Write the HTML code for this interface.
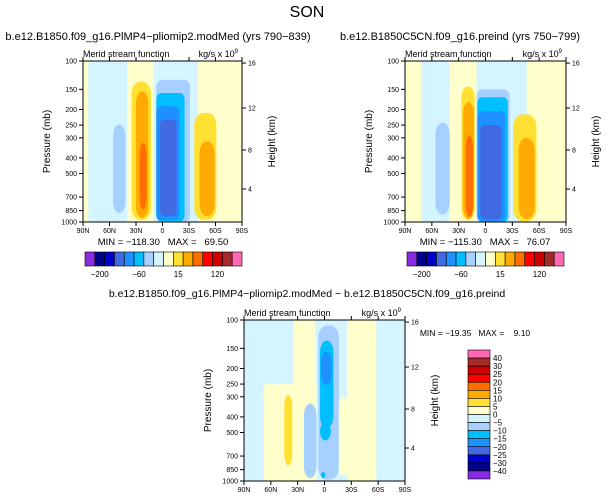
<!DOCTYPE html>
<html><head><meta charset="utf-8">
<style>
body{margin:0;background:#fff;}
svg{display:block;font-family:"Liberation Sans",sans-serif;}
</style></head>
<body>
<svg id="chart" width="615" height="500" viewBox="0 0 615 500">
<text x="307" y="17" font-size="16" text-anchor="middle">SON</text>
</svg>
<script>
// ---- data ----
const latTicks = [90, 60, 30, 0, -30, -60, -90];
const latTickLabels = ["90N","60N","30N","0","30S","60S","90S"];
const presTicks = [100,150,200,250,300,400,500,700,850,1000];
const heightTicks = [16,12,8,4];
const heightTickPres = [103,196,357,624];
const fillColors = {pc:"#d4f4ff", py:"#ffffcc", lb:"#a6d0ff", ds:"#00bfff", db:"#1e90ff", rb:"#4169e1", gd:"#ffe033", or:"#ffaa00", do:"#ff6f00"};
const bar1Colors = ["#8a2be2","#00008b","#0000cd","#4169e1","#1e90ff","#00bfff","#a6d0ff","#d4f4ff","#ffffcc","#ffe033","#ffaa00","#ff6f00","#ff0000","#cd0000","#a52a2a","#ff69b4"];
const bar1Labels = ["-200","-60","15","120"];
const bar1LabelIdx = [1,5,9,13];
const bar3Colors = ["#ff69b4","#a52a2a","#cd0000","#ff0000","#ff6f00","#ffaa00","#ffe033","#ffffcc","#d4f4ff","#a6d0ff","#00bfff","#1e90ff","#4169e1","#0000cd","#00008b","#8a2be2"];
const bar3Labels = ["40","30","25","20","15","10","5","0","\u22125","\u221210","\u221215","\u221220","\u221225","\u221230","\u221240"];
// blobs: [latLeft, latRight, pTop, pBottom, colorKey, roundness]
const panel1Blobs = [
 [90,84,100,1000,"py",0],[84,40,100,1000,"pc",0.3],[40,10,100,1000,"py",0],[10,-42,100,1000,"pc",0],[-40,-72,100,1000,"py",0.3],
 [56,42,248,880,"lb",1],[35,13,134,970,"gd",1],[30,16,154,945,"or",1],[26,18,323,837,"do",1],
 [7,-31,131,1000,"lb",0.6],[7,-25,158,990,"ds",0.5],[7,-19,191,970,"db",0.5],[3,-16,231,920,"rb",0.5],
 [-36,-61,210,970,"gd",1],[-42,-59,315,920,"or",1]];
const panel2Blobs = [
 [90,72,100,1000,"py",0],[72,40,100,1000,"pc",0.3],[40,10,100,1000,"py",0],[10,-48,100,1000,"pc",0],[-46,-76,100,1000,"py",0.3],
 [56,40,242,900,"lb",1],[27,12,144,970,"gd",1],[25,13,180,955,"or",1],[22,14,290,930,"do",1],
 [10,-27,150,1000,"lb",0.6],[9,-25,168,1000,"ds",0.5],[9,-22,205,985,"db",0.5],[6,-18,250,960,"rb",0.5],
 [-31,-57,215,985,"gd",1],[-37,-55,300,960,"or",1]];
const panel3Blobs = [
 [35,10,100,260,"py",0.3],[68,9,250,1000,"py",0.3],[-25,-58,100,1000,"py",0.4],[-15,-26,300,930,"py",1],
 [45,36,292,800,"gd",1],[23,9,330,960,"lb",1],[7,-16,108,980,"lb",1],[5,-10,134,470,"ds",1],[4,-8,158,253,"db",1],
 [5,-7,430,560,"ds",1],[4,-1,880,960,"ds",1]];
// ---- drawing ----
const svg = document.getElementById('chart');
const NS = "http://www.w3.org/2000/svg";
function mk(tag, attrs, parent){const e=document.createElementNS(NS,tag);for(const k in attrs)e.setAttribute(k,attrs[k]);(parent||svg).appendChild(e);return e;}
function txt(x,y,s,size,anchor,parent){const t=mk('text',{x:x,y:y,'font-size':size,'text-anchor':anchor||'start'},parent);t.textContent=s;return t;}

function drawPanel(id, x0, y0, w, h, blobs, bg, name){
  const g = mk('g',{});
  
  
  const xs = lat => x0 + (90-lat)/180*w;
  const ys = p => y0 + Math.log10(p/100)*h;
  const cp = mk('clipPath',{id:'clip'+id},g);
  mk('rect',{x:x0,y:y0,width:w,height:h},cp);
  const bgR = mk('rect',{x:x0,y:y0,width:w,height:h,fill:fillColors[bg]},g);
  
  
  const cg = mk('g',{'clip-path':'url(#clip'+id+')'},g);
  blobs.forEach(b=>{
    const x1=xs(b[0]), x2=xs(b[1]), y1=ys(b[2]), y2=ys(b[3]);
    const rw=Math.min((x2-x1)/2, 9)*b[5], rh=Math.min((y2-y1)/2, 12)*b[5];
    const r = mk('rect',{x:x1,y:y1,width:x2-x1,height:y2-y1,rx:rw,ry:rh,fill:fillColors[b[4]]},cg);
    
    
  });
  mk('rect',{x:x0,y:y0,width:w,height:h,fill:'none',stroke:'#000','stroke-width':1},g);
  latTicks.forEach((l,i)=>{
    const x=xs(l);
    mk('line',{x1:x,y1:y0+h,x2:x,y2:y0+h+4,stroke:'#000'},g);
    mk('line',{x1:x,y1:y0,x2:x,y2:y0-4,stroke:'#000'},g);
    const t=txt(x,y0+h+11,latTickLabels[i],7,'middle',g);
    
    
  });
  presTicks.forEach(p=>{
    const y=ys(p);
    mk('line',{x1:x0,y1:y,x2:x0-4,y2:y,stroke:'#000'},g);
    const t=txt(x0-6,y+2.5,String(p),7,'end',g);
    
    
  });
  heightTicks.forEach((hk,i)=>{
    const y=ys(heightTickPres[i]);
    mk('line',{x1:x0+w,y1:y,x2:x0+w+4,y2:y,stroke:'#000'},g);
    const t=txt(x0+w+6,y+2.5,String(hk),7,'start',g);
    
    
  });
  const yl=txt(0,0,'Pressure (mb)',10,'middle',g);
  yl.setAttribute('transform','translate('+(x0-33)+','+(y0+h/2)+') rotate(-90)');
  
  
  const hl=txt(0,0,'Height (km)',10,'middle',g);
  hl.setAttribute('transform','translate('+(x0+w+33)+','+(y0+h/2)+') rotate(-90)');
  
  
  const st=txt(x0,y0-4,'Merid stream function',9,'start',g);
  
  
  const un=txt(x0+w,y0-4,'kg/s x 10',9,'end',g);
  
  
  const sp=mk('tspan',{'font-size':6,dy:-4},un); sp.textContent='9';
  un.setAttribute('x', x0+w-4);
  return g;
}

function hBar(x0,y0,w,h){
  const g=mk('g',{});
  
  
  const bw=w/bar1Colors.length;
  bar1Colors.forEach((c,i)=>{
    const r=mk('rect',{x:x0+i*bw,y:y0,width:bw,height:h,fill:c,stroke:'#000','stroke-width':0.6},g);
    
    
  });
  bar1Labels.forEach((s,i)=>{
    const t=txt(x0+(bar1LabelIdx[i]+0.5)*bw,y0+h+11,s.replace('-','\u2212'),8,'middle',g);
    
    
  });
}

drawPanel(1,83,61,159,161,panel1Blobs,'py','panel-pliomip2');
drawPanel(2,405,61,161,161,panel2Blobs,'py','panel-preind');
drawPanel(3,244,320,161,161,panel3Blobs,'pc','panel-difference');
hBar(85,252,157,14);
hBar(407,252,157,14);

// vertical colorbar
const vb=mk('g',{});


const vbh=(479-350)/bar3Colors.length;
bar3Colors.forEach((c,i)=>{
  const r=mk('rect',{x:468,y:350+i*vbh,width:22,height:vbh,fill:c,stroke:'#000','stroke-width':0.6},vb);
  
  
});
bar3Labels.forEach((s,i)=>{
  const t=txt(493,350+(i+1)*vbh+3,s,8,'start',vb);
  
  
});

const titles=[
 [158,40,'b.e12.B1850.f09_g16.PlMP4\u2212pliomip2.modMed (yrs 790\u2212839)','panel1-title',11],
 [460,40,'b.e12.B1850C5CN.f09_g16.preind (yrs 750\u2212799)','panel2-title',11],
 [307,297,'b.e12.B1850.f09_g16.PlMP4\u2212pliomip2.modMed \u2212 b.e12.B1850C5CN.f09_g16.preind','panel3-title',10.5],
 [163,245,'MIN = \u2212118.30   MAX =   69.50','panel1-minmax',9.5],
 [485,245,'MIN = \u2212115.30   MAX =   76.07','panel2-minmax',9.5],
 [475,336,'MIN = \u221219.35   MAX =    9.10','panel3-minmax',8.5]];
titles.forEach(a=>{
  const t=txt(a[0],a[1],a[2],a[4],'middle');
  
  
  t.setAttribute('xml:space','preserve');
  t.style.whiteSpace='pre';
});
</script>
</body></html>
